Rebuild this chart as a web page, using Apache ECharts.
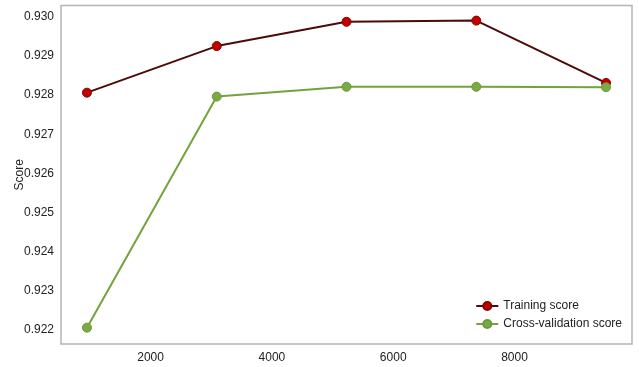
<!DOCTYPE html>
<html>
<head>
<meta charset="utf-8">
<script src="https://cdn.jsdelivr.net/npm/echarts@6/dist/echarts.min.js"></script>
<style>
  html, body { margin: 0; padding: 0; background: #ffffff; }
  #chart { width: 639px; height: 367px; }
</style>
</head>
<body>
<div id="chart"></div>
<script>
// Training set sizes used for the learning curve
const trainSizes = [951, 3091, 5230, 7370, 9509];
// Mean scores per training size
const trainingScore = [0.92806, 0.92925, 0.92987, 0.92990, 0.92831];
const crossValScore = [0.92206, 0.92796, 0.92821, 0.92821, 0.92820];
// Tick labels shown on each axis
const xTicks = [2000, 4000, 6000, 8000];
const yTicks = [0.922, 0.923, 0.924, 0.925, 0.926, 0.927, 0.928, 0.929, 0.930];

const FONT = '"Liberation Sans Narrow", "Liberation Sans", Arial, sans-serif';

const chart = echarts.init(document.getElementById('chart'), null, { renderer: 'canvas' });

function pair(xs, ys) { return xs.map((x, i) => [x, ys[i]]); }

chart.setOption({
  animation: false,
  backgroundColor: '#ffffff',
  grid: {
    left: 61, right: 7, top: 5.5, bottom: 23,
    outerBoundsMode: 'none',
    containLabel: false,
    show: true, borderColor: '#b4b4b4', borderWidth: 1.5, backgroundColor: 'transparent'
  },
  xAxis: {
    type: 'value',
    min: 523, max: 9937,
    axisLine: { show: false },
    axisTick: { show: false },
    splitLine: { show: false },
    axisLabel: {
      customValues: xTicks,
      color: '#222', fontFamily: FONT, fontSize: 12, margin: 8,
      formatter: v => String(v)
    }
  },
  yAxis: {
    type: 'value',
    min: 0.921643, max: 0.930286,
    name: 'Score',
    nameLocation: 'middle',
    nameGap: 35,
    nameMoveOverlap: false,
    nameTextStyle: { color: '#222', fontFamily: FONT, fontSize: 12 },
    axisLine: { show: false },
    axisTick: { show: false },
    splitLine: { show: false },
    axisLabel: {
      customValues: yTicks,
      color: '#222', fontFamily: FONT, fontSize: 12, margin: 7,
      formatter: v => v.toFixed(3)
    }
  },
  legend: {
    orient: 'vertical',
    right: 12, bottom: 32,
    itemWidth: 22, itemHeight: 10, itemGap: 6,
    textStyle: { color: '#222', fontFamily: FONT, fontSize: 12 },
    data: ['Training score', 'Cross-validation score']
  },
  series: [
    {
      name: 'Training score',
      type: 'line',
      data: pair(trainSizes, trainingScore),
      symbol: 'circle', symbolSize: 9,
      lineStyle: { color: '#4e0909', width: 2 },
      itemStyle: { color: '#c00000', borderColor: '#8a0000', borderWidth: 1 }
    },
    {
      name: 'Cross-validation score',
      type: 'line',
      data: pair(trainSizes, crossValScore),
      symbol: 'circle', symbolSize: 9,
      lineStyle: { color: '#74a23c', width: 2 },
      itemStyle: { color: '#7aaa45', borderColor: '#6b9a38', borderWidth: 1 }
    }
  ]
});
</script>
</body>
</html>
